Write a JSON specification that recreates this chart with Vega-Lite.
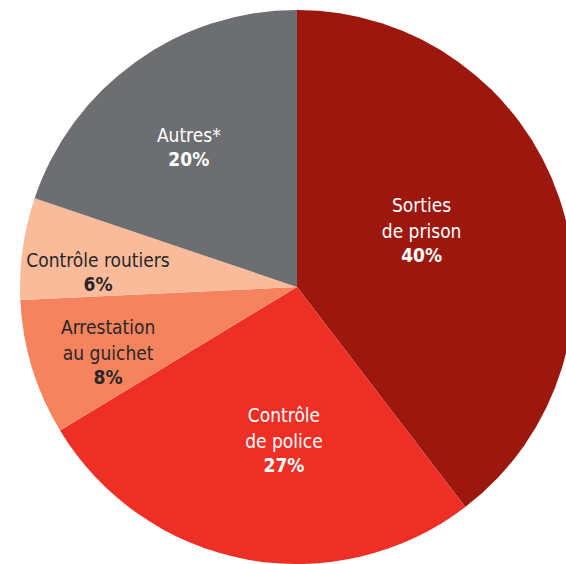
{
  "$schema": "https://vega.github.io/schema/vega-lite/v6.json",
  "width": 566,
  "height": 564,
  "padding": {"left": 14, "top": 5, "right": 0, "bottom": 0},
  "autosize": {"type": "none"},
  "background": "white",
  "config": {"view": {"stroke": null}},
  "data": {
    "values": [
      {"rank": 1, "cat": "Sorties de prison", "name": "Sorties\nde prison", "share": 0.40},
      {"rank": 2, "cat": "Contrôle de police", "name": "Contrôle\nde police", "share": 0.27},
      {"rank": 3, "cat": "Arrestation au guichet", "name": "Arrestation\nau guichet", "share": 0.08},
      {"rank": 4, "cat": "Contrôle routiers", "name": "Contrôle routiers", "share": 0.06},
      {"rank": 5, "cat": "Autres*", "name": "Autres*", "share": 0.20}
    ]
  },
  "encoding": {
    "theta": {"field": "share", "type": "quantitative", "stack": true},
    "order": {"field": "rank", "type": "quantitative", "sort": "ascending"}
  },
  "layer": [
    {
      "mark": {"type": "arc", "radius": 277},
      "encoding": {
        "color": {
          "field": "cat",
          "type": "nominal",
          "scale": {
            "domain": ["Sorties de prison", "Contrôle de police", "Arrestation au guichet", "Contrôle routiers", "Autres*"],
            "range": ["#9c170d", "#ee2f25", "#f5835e", "#fabb9b", "#6d6e72"]
          },
          "legend": null
        }
      }
    },
    {
      "mark": {
        "type": "text",
        "font": "DejaVu Sans Condensed",
        "fontSize": 19,
        "lineBreak": "\n",
        "lineHeight": 26,
        "align": "center",
        "baseline": "bottom",
        "dy": {"expr": "datum.cat === 'Contrôle routiers' || datum.cat === 'Autres*' ? -14 : -40"},
        "radius": {"expr": "datum.cat === 'Sorties de prison' ? 128.3 : datum.cat === 'Contrôle de police' ? 179.4 : datum.cat === 'Arrestation au guichet' ? 209.8 : datum.cat === 'Contrôle routiers' ? 199.0 : 166.6"},
        "thetaOffset": {"expr": "datum.cat === 'Sorties de prison' ? 0.0863 : datum.cat === 'Contrôle de police' ? -0.114 : datum.cat === 'Arrestation au guichet' ? -0.155 : datum.cat === 'Contrôle routiers' ? -0.128 : -0.0848"}
      },
      "encoding": {
        "text": {"field": "name", "type": "nominal"},
        "color": {
          "condition": {"test": "datum.cat === 'Arrestation au guichet' || datum.cat === 'Contrôle routiers'", "value": "#2a2627"},
          "value": "#ffffff"
        }
      }
    },
    {
      "mark": {
        "type": "text",
        "font": "DejaVu Sans Condensed",
        "fontSize": 19,
        "fontWeight": "bold",
        "align": "center",
        "baseline": "middle",
        "radius": {"expr": "datum.cat === 'Sorties de prison' ? 128.3 : datum.cat === 'Contrôle de police' ? 179.4 : datum.cat === 'Arrestation au guichet' ? 209.8 : datum.cat === 'Contrôle routiers' ? 199.0 : 166.6"},
        "thetaOffset": {"expr": "datum.cat === 'Sorties de prison' ? 0.0863 : datum.cat === 'Contrôle de police' ? -0.114 : datum.cat === 'Arrestation au guichet' ? -0.155 : datum.cat === 'Contrôle routiers' ? -0.128 : -0.0848"}
      },
      "encoding": {
        "text": {"field": "share", "type": "quantitative", "format": ".0%"},
        "color": {
          "condition": {"test": "datum.cat === 'Arrestation au guichet' || datum.cat === 'Contrôle routiers'", "value": "#2a2627"},
          "value": "#ffffff"
        }
      }
    }
  ]
}
